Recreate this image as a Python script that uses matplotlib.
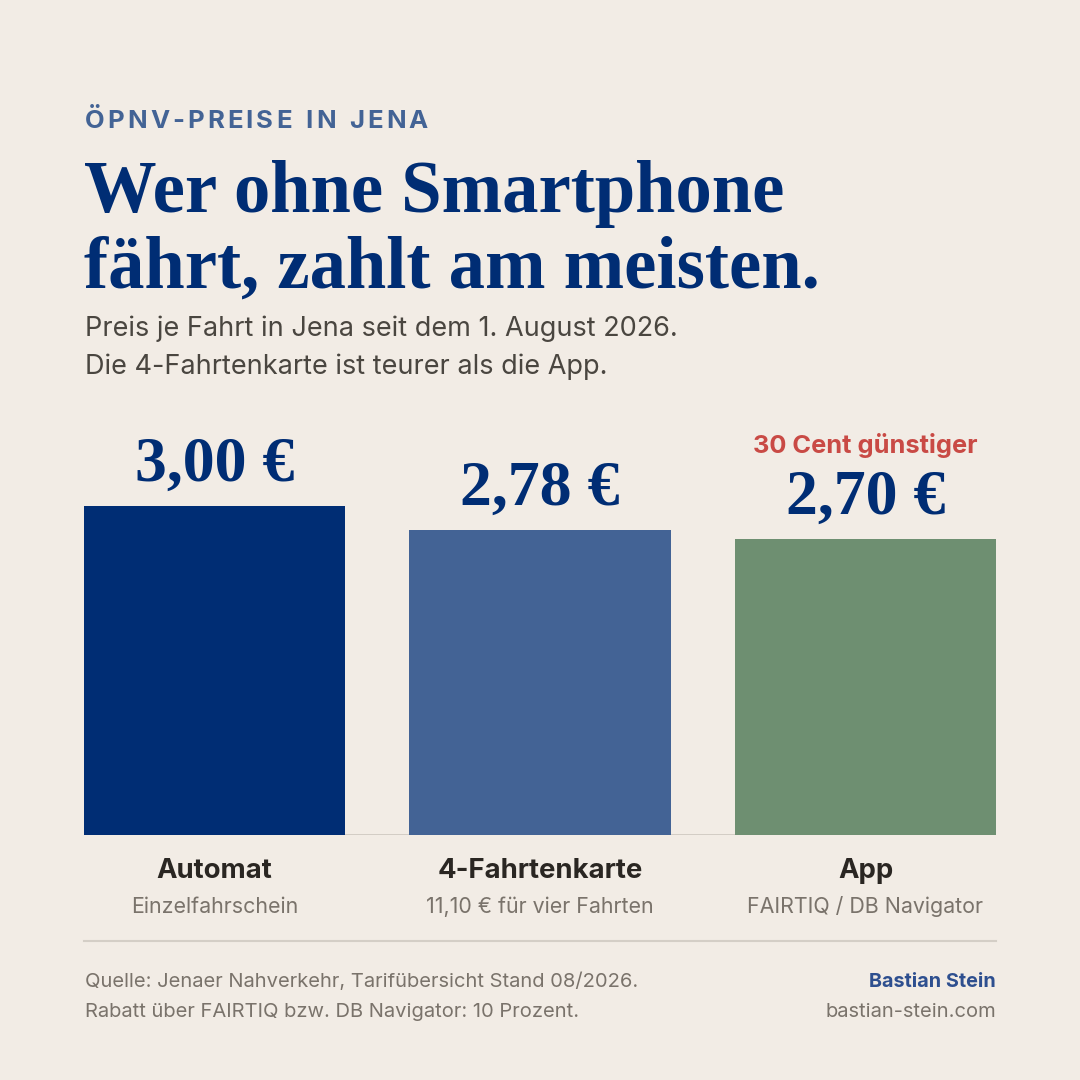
import matplotlib
matplotlib.use("Agg")
import matplotlib.pyplot as plt

W = H = 1080
DPI = 100

BG = "#f2ece5"
NAVY = "#002d74"
MID_BLUE = "#436395"
GREEN = "#6e8f71"
RED = "#c94a45"
DARK = "#2a2622"
GRAY = "#7a736b"
SUB = "#4a4640"
RULE = "#d4cec6"

categories = ["Automat", "4-Fahrtenkarte", "App"]
subtitles = ["Einzelfahrschein", "11,10 € für vier Fahrten", "FAIRTIQ / DB Navigator"]
prices = [3.00, 2.78, 2.70]
price_labels = ["3,00 €", "2,78 €", "2,70 €"]
bar_colors = [NAVY, MID_BLUE, GREEN]

SANS = ["Inter", "DejaVu Sans"]
SERIF = ["Liberation Serif", "DejaVu Serif"]


def fx(px):
    return px / W


def fy(py):
    return 1 - py / H


def spaced_text(fig, x, y, s, tracking, **kw):
    # matplotlib has no letter-spacing, so place the glyphs one by one
    renderer = fig.canvas.get_renderer()
    cur = x
    for ch in s:
        t = fig.text(fx(cur), fy(y), ch, **kw)
        if ch == " ":
            t2 = fig.text(0, 0, "n", **kw)
            w = t2.get_window_extent(renderer).width * 0.5
            t2.remove()
        else:
            w = t.get_window_extent(renderer).width
        cur += w + tracking


fig = plt.figure(figsize=(W / DPI, H / DPI), dpi=DPI, facecolor=BG)

# header
spaced_text(fig, 85, 128, "ÖPNV-PREISE IN JENA", 3.0, family=SANS,
            fontsize=18.5, fontweight="bold", color=MID_BLUE, va="baseline")
fig.text(fx(84), fy(212), "Wer ohne Smartphone", family=SERIF, fontsize=52.3,
         fontweight="bold", color=NAVY, va="baseline")
fig.text(fx(84), fy(288), "fährt, zahlt am meisten.", family=SERIF, fontsize=52.3,
         fontweight="bold", color=NAVY, va="baseline")
fig.text(fx(85), fy(336), "Preis je Fahrt in Jena seit dem 1. August 2026.",
         family=SANS, fontsize=19.5, color=SUB, va="baseline")
fig.text(fx(85), fy(374), "Die 4-Fahrtenkarte ist teurer als die App.",
         family=SANS, fontsize=19.5, color=SUB, va="baseline")

# bars
ax = fig.add_axes([fx(84), fy(835), fx(996) - fx(84), fy(506) - fy(835)])
ax.set_facecolor("none")
x = list(range(len(categories)))
width = 0.802
ax.bar(x, prices, width=width, color=bar_colors, zorder=2)
ax.axhline(0, color="#c9c3bb", lw=1.8, zorder=1)
ax.set_xlim(-width / 2, len(categories) - 1 + width / 2)
ax.set_ylim(0, max(prices))
ax.axis("off")

for i, (p, lab) in enumerate(zip(prices, price_labels)):
    ax.annotate(lab, (i, p), xytext=(0, 25), textcoords="offset pixels",
                ha="center", va="baseline", family=SERIF, fontsize=46,
                fontweight="bold", color=NAVY, annotation_clip=False)
ax.annotate("30 Cent günstiger", (2, prices[2]), xytext=(0, 86),
            textcoords="offset pixels", ha="center", va="baseline",
            family=SANS, fontsize=18.3, fontweight="bold", color=RED,
            annotation_clip=False)

for i, (c, s) in enumerate(zip(categories, subtitles)):
    ax.annotate(c, (i, 0), xytext=(0, -43), textcoords="offset pixels",
                ha="center", va="baseline", family=SANS, fontsize=19.8,
                fontweight="bold", color=DARK, annotation_clip=False)
    ax.annotate(s, (i, 0), xytext=(0, -78), textcoords="offset pixels",
                ha="center", va="baseline", family=SANS, fontsize=15.4,
                color=GRAY, annotation_clip=False)

# footer
fig.add_artist(plt.Line2D([fx(84), fx(996)], [fy(941), fy(941)],
                          color=RULE, lw=1.5))
fig.text(fx(85), fy(987), "Quelle: Jenaer Nahverkehr, Tarifübersicht Stand 08/2026.",
         family=SANS, fontsize=14.5, color=GRAY, va="baseline")
fig.text(fx(85), fy(1017), "Rabatt über FAIRTIQ bzw. DB Navigator: 10 Prozent.",
         family=SANS, fontsize=14.5, color=GRAY, va="baseline")
fig.text(fx(996), fy(987), "Bastian Stein", family=SANS, fontsize=14.3,
         fontweight="bold", color="#2e4f8f", ha="right", va="baseline")
fig.text(fx(996), fy(1017), "bastian-stein.com", family=SANS, fontsize=14.5,
         color=GRAY, ha="right", va="baseline")

fig.savefig("out.png", dpi=DPI, facecolor=BG)
